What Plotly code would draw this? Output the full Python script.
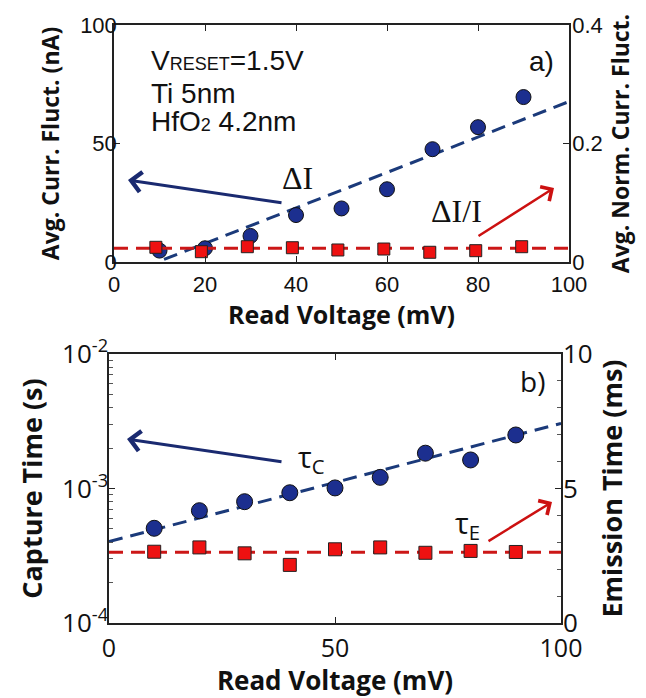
import plotly.graph_objects as go

W, H = 646, 698

# ---------------- data ----------------
read_v = [10, 20, 30, 40, 50, 60, 70, 80, 90]
read_v_sq_top = [9.2, 19.2, 29.3, 39.2, 49.2, 59.3, 69.4, 79.5, 89.6]
delta_i = [4.8, 5.8, 11.0, 19.8, 22.6, 30.7, 47.6, 56.9, 69.6]          # nA
delta_i_norm = [0.0248, 0.0174, 0.0258, 0.0241, 0.0203, 0.0219, 0.0164, 0.0191, 0.0258]
fit_di_x = [11, 100]
fit_di_y = [1.1, 67.7]
fit_norm_x = [0, 100]
fit_norm_y = [0.0231, 0.0231]

tau_c = [5.06e-4, 6.84e-4, 7.98e-4, 9.3e-4, 1.01e-3, 1.21e-3, 1.83e-3, 1.63e-3, 2.50e-3]  # s
tau_e = [2.65, 2.81, 2.59, 2.16, 2.74, 2.81, 2.61, 2.68, 2.64]  # ms
fit_tc_x = [0, 100]
fit_tc_y = [4.03e-4, 3.05e-3]
fit_te_x = [0, 100]
fit_te_y = [2.63, 2.63]

top_xticks = [0, 20, 40, 60, 80, 100]
top_yticks = [0, 50, 100]
top_y2ticks = [0, 0.2, 0.4]
bot_xticks = [0, 50, 100]
bot_yticks = [1e-4, 1e-3, 1e-2]
bot_yticktext = ["10<sup>-4</sup>", "10<sup>-3</sup>", "10<sup>-2</sup>"]
bot_y2ticks = [0, 5, 10]

# ---------------- styles ----------------
BLUE = "#1c2f8f"
BLUE_LINE = "#1b3a7a"
RED = "#ee1111"
RED_LINE = "#cc1717"
AX = "#222222"
TOPFONT = "Liberation Sans, Arial, sans-serif"
BOTFONT = "Open Sans, sans-serif"
TITLEFONT = "Open Sans, sans-serif"


def fx(p):
    return p / W


def fy(p):
    return 1 - p / H


top_x_dom = [fx(114), fx(569)]
top_y_dom = [fy(262), fy(25)]
bot_x_dom = [fx(109), fx(561)]
bot_y_dom = [fy(623), fy(354)]

fig = go.Figure()

# top panel
fig.add_trace(go.Scatter(x=fit_di_x, y=fit_di_y, mode="lines", xaxis="x", yaxis="y",
                         line=dict(color=BLUE_LINE, width=3, dash="14px,8px"), showlegend=False))
fig.add_trace(go.Scatter(x=fit_norm_x, y=fit_norm_y, mode="lines", xaxis="x", yaxis="y2",
                         line=dict(color=RED_LINE, width=3, dash="14px,8px"), showlegend=False))
fig.add_trace(go.Scatter(x=read_v, y=delta_i, mode="markers", xaxis="x", yaxis="y",
                         marker=dict(symbol="circle", size=15, color=BLUE,
                                     line=dict(color="#111", width=1)), showlegend=False))
fig.add_trace(go.Scatter(x=read_v_sq_top, y=delta_i_norm, mode="markers", xaxis="x", yaxis="y2",
                         marker=dict(symbol="square", size=12, color=RED,
                                     line=dict(color="#222", width=1)), showlegend=False))

# bottom panel
fig.add_trace(go.Scatter(x=fit_tc_x, y=fit_tc_y, mode="lines", xaxis="x2", yaxis="y3",
                         line=dict(color=BLUE_LINE, width=3, dash="14px,8px"), showlegend=False))
fig.add_trace(go.Scatter(x=fit_te_x, y=fit_te_y, mode="lines", xaxis="x2", yaxis="y4",
                         line=dict(color=RED_LINE, width=3, dash="14px,8px"), showlegend=False))
fig.add_trace(go.Scatter(x=read_v, y=tau_c, mode="markers", xaxis="x2", yaxis="y3",
                         marker=dict(symbol="circle", size=16, color=BLUE,
                                     line=dict(color="#111", width=1)), showlegend=False))
fig.add_trace(go.Scatter(x=read_v, y=tau_e, mode="markers", xaxis="x2", yaxis="y4",
                         marker=dict(symbol="square", size=13, color=RED,
                                     line=dict(color="#222", width=1)), showlegend=False))

common = dict(showgrid=False, zeroline=False, showline=True, linecolor=AX, linewidth=1.5,
              ticks="inside", ticklen=6, tickcolor=AX, tickwidth=1.2, automargin=False)

fig.update_layout(
    width=W, height=H, margin=dict(l=0, r=0, t=0, b=0),
    paper_bgcolor="white", plot_bgcolor="white",
    xaxis=dict(domain=top_x_dom, anchor="y", range=[0, 100], tickvals=top_xticks,
               mirror="ticks", tickfont=dict(family=TOPFONT, size=22, color="#111"),
               ticklabelstandoff=2,
               title=dict(text="Read Voltage (mV)", standoff=0,
                          font=dict(family=TITLEFONT, size=25, weight="bold", color="#111")),
               **common),
    yaxis=dict(domain=top_y_dom, anchor="x", range=[0, 100], tickvals=top_yticks,
               tickfont=dict(family=TOPFONT, size=22, color="#111"), ticklabelstandoff=-9,
               title=dict(text="Avg. Curr. Fluct. (nA)", standoff=14,
                          font=dict(family=TITLEFONT, size=23, weight="bold", color="#111")),
               **common),
    yaxis2=dict(overlaying="y", anchor="x", side="right", range=[0, 0.4], tickvals=top_y2ticks,
                tickfont=dict(family=TOPFONT, size=22, color="#111"), ticklabelstandoff=-3,
                title=dict(text="Avg. Norm. Curr. Fluct.", standoff=11,
                           font=dict(family=TITLEFONT, size=23, weight="bold", color="#111")),
                **common),
    xaxis2=dict(domain=bot_x_dom, anchor="y3", range=[0, 100], tickvals=bot_xticks,
                mirror="ticks", tickfont=dict(family=BOTFONT, size=25, color="#111"),
                ticklabelstandoff=2,
                title=dict(text="Read Voltage (mV)", standoff=0,
                           font=dict(family=TITLEFONT, size=26, weight="bold", color="#111")),
                **common),
    yaxis3=dict(domain=bot_y_dom, anchor="x2", type="log", range=[-4, -2],
                tickvals=bot_yticks, ticktext=bot_yticktext, ticklabelstandoff=-6,
                tickfont=dict(family=BOTFONT, size=26, color="#111"),
                minor=dict(tickvals=[k * 10.0 ** e for e in (-4, -3) for k in range(2, 10)],
                           ticks="inside", ticklen=4, tickcolor="#555", tickwidth=1),
                title=dict(text="Capture Time (s)", standoff=12,
                           font=dict(family=TITLEFONT, size=27, weight="bold", color="#111")),
                **common),
    yaxis4=dict(overlaying="y3", anchor="x2", side="right", range=[0, 10], tickvals=bot_y2ticks,
                tickfont=dict(family=BOTFONT, size=26, color="#111"), ticklabelstandoff=-5,
                minor=dict(dtick=1, ticks="inside", ticklen=4, tickcolor="#555", tickwidth=1),
                title=dict(text="Emission Time (ms)", standoff=10,
                           font=dict(family=TITLEFONT, size=27, weight="bold", color="#111")),
                **common),
)

ann = []


def text(x, y, t, size, family=TOPFONT, xanchor="left", color="#111"):
    ann.append(dict(x=fx(x), y=fy(y), xref="paper", yref="paper", text=t, showarrow=False,
                    xanchor=xanchor, yanchor="middle", font=dict(family=family, size=size, color=color)))


def arrow(hx, hy, tx, ty, color, width):
    ann.append(dict(x=fx(hx), y=fy(hy), xref="paper", yref="paper", text="", showarrow=True,
                    ax=tx - hx, ay=ty - hy, axref="pixel", ayref="pixel",
                    arrowhead=4, arrowsize=1.3, arrowwidth=width, arrowcolor=color))


text(149, 60, "V<span style=\"font-size:18px\">RESET</span>=1.5V", 28)
text(149, 93, "Ti 5nm", 28)
text(149, 122, "HfO<span style=\"font-size:18px\">2</span> 4.2nm", 28)
text(541, 61, "a)", 28, xanchor="center")
text(297, 178, "ΔI", 32, family="Liberation Serif, Times New Roman, serif", xanchor="center")
text(456, 211, "ΔI/I", 32, family="Liberation Serif, Times New Roman, serif", xanchor="center")
arrow(128, 180, 283, 203, "#1a2a70", 3)
arrow(554, 188, 477, 237, "#cc1111", 2.5)

text(532, 381, "b)", 28, family=BOTFONT, xanchor="center")
text(311, 458, "τ<sub>C</sub>", 29, family=BOTFONT, xanchor="center")
text(467, 524, "τ<sub>E</sub>", 29, family=BOTFONT, xanchor="center")
arrow(127, 439, 283, 462, "#1a2a70", 3)
arrow(552, 502, 487, 542, "#cc1111", 2.5)

fig.update_layout(annotations=ann)

fig.write_html("out.html")
